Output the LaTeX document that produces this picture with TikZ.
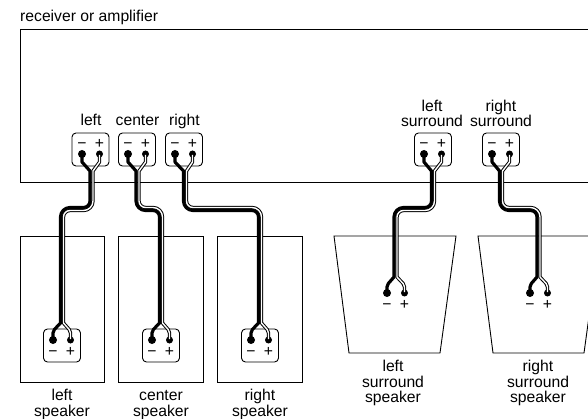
\documentclass[tikz,border=0pt]{standalone}
\usepackage{fontspec}
\setmainfont{Liberation Sans}
\usetikzlibrary{calc}
\tikzset{
  x=1pt,y=-1pt,
  outline/.style={draw=black,line width=0.9pt,fill=white},
  termbox/.style={draw=black,line width=0.9pt,rounded corners=4pt,minimum width=37pt,minimum height=33pt,inner sep=0pt,fill=white},
  label/.style={anchor=base,align=center,inner sep=0pt,font=\fontsize{15.7}{15.5}\selectfont},
  sign/.style={anchor=base,inner sep=0pt,font=\fontsize{15.7}{15}\selectfont},
  postm/.style={circle,fill=black,inner sep=0pt,minimum size=8pt},
  postp/.style={circle,fill=black,inner sep=0pt,minimum size=7pt},
  wirem/.style={draw=black,line width=3.2pt,line join=round},
  wireo/.style={draw=black,line width=3.4pt,line join=round},
  wirei/.style={draw=white,line width=1.4pt,line join=round},
}
% #1 top minus post, #2 top plus post, #3 bottom minus post, #4 bottom plus post,
% #5 top cable x, #6 bottom cable x, #7 y of run, #8 split y bottom, #9 -1 left run, 1 right run
\newcommand\speakercable[9]{%
  \pgfmathsetmacro\rma{#9<0?6.5:9.5}\pgfmathsetmacro\rmb{#9<0?9.5:6.5}%
  \pgfmathsetmacro\rpa{#9<0?9.5:6.5}\pgfmathsetmacro\rpb{#9<0?6.5:9.5}%
  \pgfmathsetmacro\ya{#7+1.5*#9}\pgfmathsetmacro\yb{#7-1.5*#9}%
  \path[wirem] let \p1=(#1),\p2=(#3) in
    (\x1,\y1) -- (\x1,\y1-8pt) -- (#5-1.5,\y1-17pt)
    [rounded corners=\rma pt] -- (#5-1.5,\ya) [rounded corners=\rmb pt] -- (#6-1.5,\ya) [sharp corners]
    -- (#6-1.5,#8) [rounded corners=2pt] -- (\x2,#8+8) [sharp corners] -- (\x2,\y2);
  \path[wireo] let \p1=(#2),\p2=(#4) in
    (\x1,\y1) -- (\x1,\y1-8pt) -- (#5+1.5,\y1-17pt)
    [rounded corners=\rpa pt] -- (#5+1.5,\yb) [rounded corners=\rpb pt] -- (#6+1.5,\yb) [sharp corners]
    -- (#6+1.5,#8) [rounded corners=2pt] -- (\x2,#8+8) [sharp corners] -- (\x2,\y2);
  \node[postm] at (#1) {};\node[postp] at (#2) {};\node[postm] at (#3) {};\node[postp] at (#4) {};
  \path[wirei] let \p1=(#2),\p2=(#4) in
    (\x1,\y1-1pt) -- (\x1,\y1-8pt) -- (#5+1.5,\y1-17pt)
    [rounded corners=\rpa pt] -- (#5+1.5,\yb) [rounded corners=\rpb pt] -- (#6+1.5,\yb) [sharp corners]
    -- (#6+1.5,#8) [rounded corners=2pt] -- (\x2,#8+8) [sharp corners] -- (\x2,\y2+1pt);
}
\begin{document}
\begin{tikzpicture}
\useasboundingbox (0,0) rectangle (588,419);
\fill[white] (0,0) rectangle (588,419);
\begin{scope}
\clip (0,0) rectangle (588,419);
% enclosures
\draw[outline] (20,29) rectangle (595,182);
\draw[outline] (20,236) rectangle (104,382);
\draw[outline] (118,236) rectangle (203,382);
\draw[outline] (217,236) rectangle (302,382);
\draw[outline] (334,236) -- (456,236) -- (440,353) -- (349,353) -- cycle;
\draw[outline] (478,236) -- (600,236) -- (584,353) -- (493,353) -- cycle;
\end{scope}
\node[label,anchor=base west] (rcv) at (20,22) {receiver or amplifier};
% terminal boxes
\node[termbox] (tl) at (90.5,149.5) {};
\node[termbox] (tc) at (137,149.5) {};
\node[termbox] (tr) at (184,149.5) {};
\node[termbox] (tsl) at (433,149.5) {};
\node[termbox] (tsr) at (501,149.5) {};
\node[termbox] (sl) at (62,345.5) {};
\node[termbox] (sc) at (161,345.5) {};
\node[termbox] (sr) at (260,345.5) {};
% labels
\node[label] at (91,126) {left};
\node[label] at (137.5,126) {center};
\node[label] at (184.5,126) {right};
\node[label] at (432,127) {left\\surround};
\node[label] at (501,127) {right\\surround};
\node[label] at (62,416) {left\\speaker};
\node[label] at (161,416) {center\\speaker};
\node[label] at (260,416) {right\\speaker};
\node[label] at (393,402.5) {left\\surround\\speaker};
\node[label] at (538,402.5) {right\\surround\\speaker};
% posts
\foreach \n/\x/\y in {
 a/82/154,b/128/154,c/175/154,d/424/154,e/492/154,
 f/53/340,g/152/340,h/251/340,i/387/293,j/530/293}{
  \coordinate (\n m) at (\x,\y);
  \coordinate (\n p) at (\x+17.5,\y);
  \node[sign] at (\x,{\y+(\y>200?16.2:-5.8)}) {−};
  \node[sign] at (\x+17.5,{\y+(\y>200?16.2:-5.8)}) {+};
}
% cables
\speakercable{am}{ap}{fm}{fp}{91.5}{62}{209}{323}{-1}
\speakercable{bm}{bp}{gm}{gp}{137.5}{161}{209}{323}{1}
\speakercable{cm}{cp}{hm}{hp}{185}{260}{209}{323}{1}
\speakercable{dm}{dp}{im}{ip}{433}{395.5}{209}{277}{-1}
\speakercable{em}{ep}{jm}{jp}{501}{538.5}{209}{277}{1}
\end{tikzpicture}
\end{document}
